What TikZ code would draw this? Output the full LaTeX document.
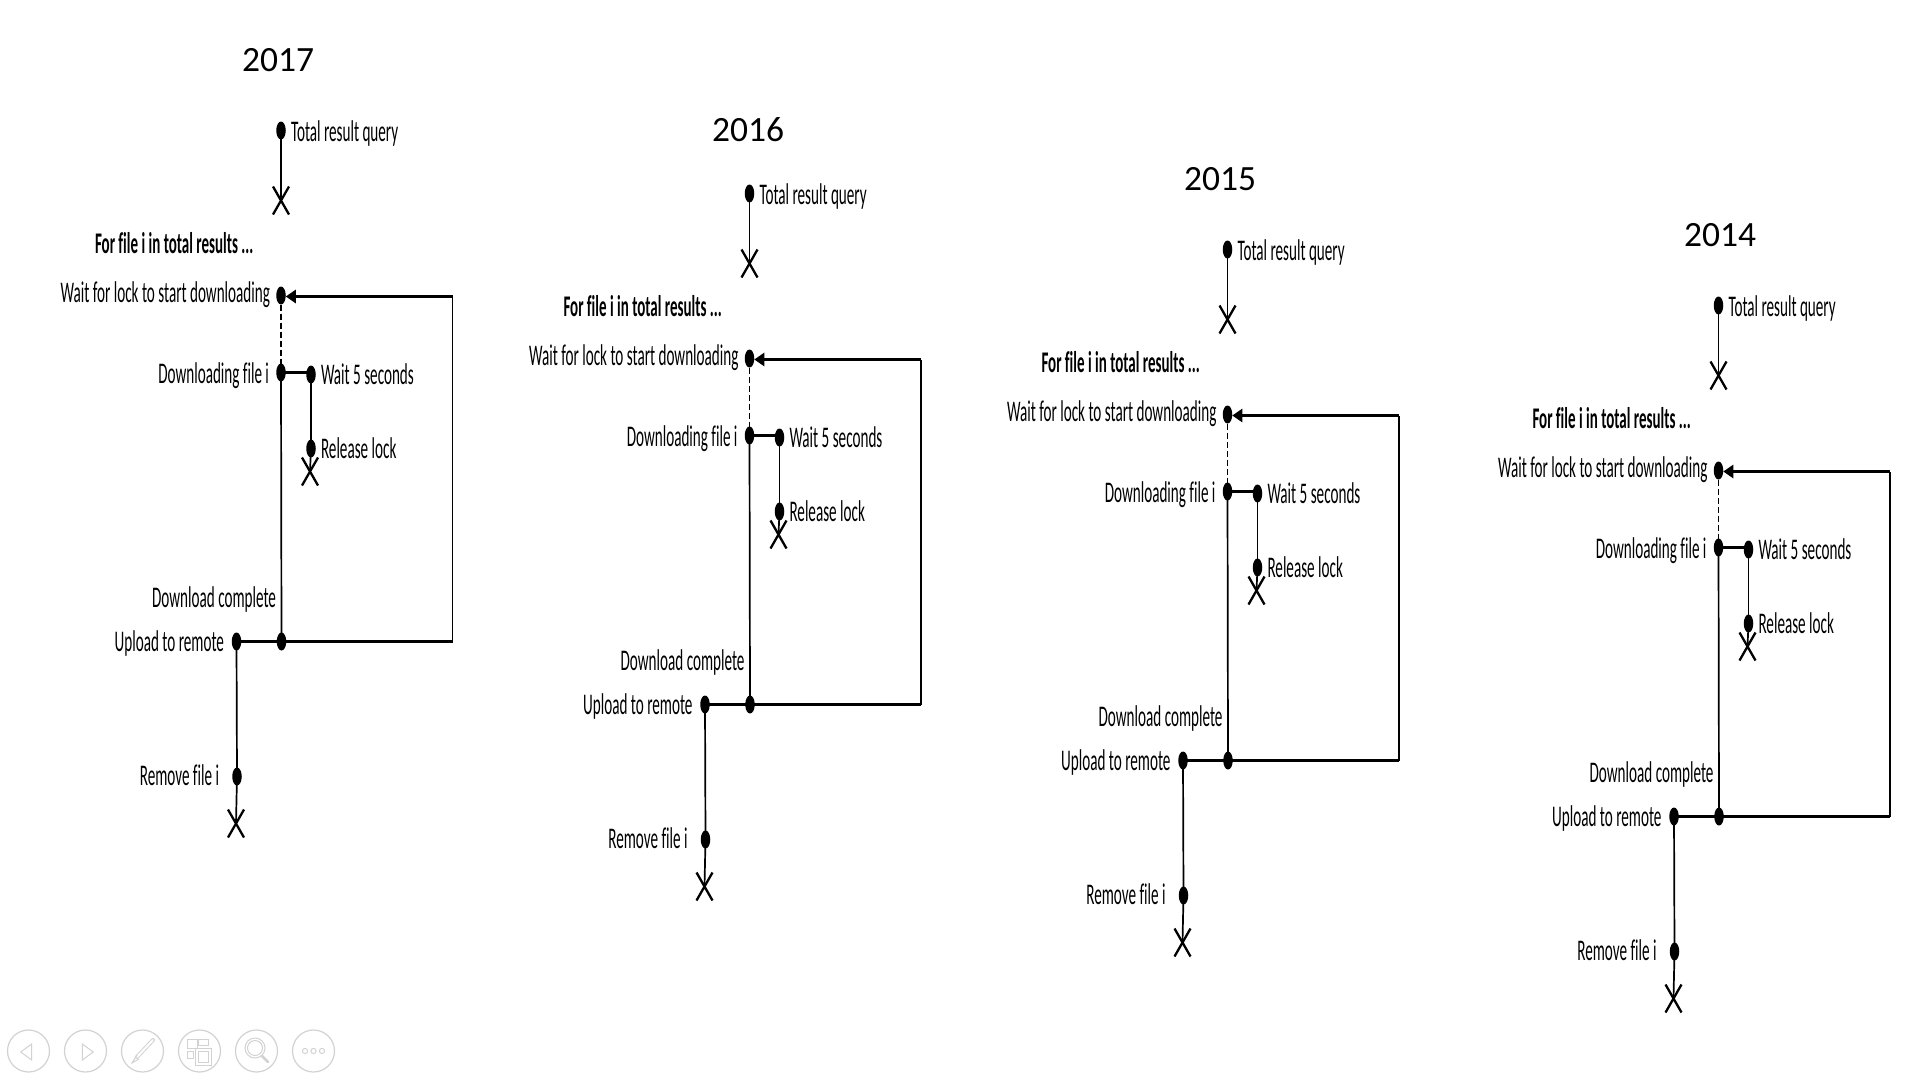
\documentclass[tikz,border=0pt]{standalone}
\usepackage{fontspec}
\usetikzlibrary{shapes.geometric,shapes.misc,arrows.meta}
\setmainfont{Carlito}
\newfontfamily\lblfont[FakeStretch=0.505,Ligatures=NoCommon]{Carlito}
\newfontfamily\lblbold[FakeStretch=0.5,Ligatures=NoCommon]{Carlito Bold}
\definecolor{icon}{HTML}{D2D2D2}
\tikzset{
  x=1pt,y=-1pt,
  lblnode/.style={font=\lblfont\fontsize{30}{30}\selectfont,text=black,inner sep=0pt,outer sep=0pt},
  boldnode/.style={font=\lblbold\fontsize{30}{30}\selectfont,text=black,inner sep=0pt,outer sep=0pt},
  yearnode/.style={font=\fontsize{35.5}{35}\selectfont,text=black,inner sep=0pt,outer sep=0pt},
  dotnode/.style={ellipse,fill=black,minimum width=9.5pt,minimum height=18pt,inner sep=0pt,outer sep=0pt},
  xnode/.style={cross out,draw=black,line width=2.3pt,minimum width=16pt,minimum height=28pt,inner sep=0pt,outer sep=0pt},
  thinline/.style={draw=black,line width=1.7pt},
  thickline/.style={draw=black,line width=2.5pt},
  dashline/.style={draw=black,line width=1.3pt,dash pattern=on 6pt off 3pt},
  iconline/.style={draw=icon,line width=1pt},
  iconball/.style={circle,draw=icon,line width=1.2pt,minimum size=42pt,inner sep=0pt},
}
\newcommand{\panel}[3]{%
\begin{scope}[shift={(#2,#3)}]
  \node[dotnode] (tq#1) at (281,130) {};
  \node[lblnode,anchor=base west] (tqt#1) at (291,141) {Total result query};
  \node[xnode] (tqx#1) at (281,200) {};
  \node[boldnode,anchor=base west] (ft#1) at (95,253) {For file i in total results ...};
  \node[dotnode] (w#1) at (281,295) {};
  \node[lblnode,anchor=base east] (wt#1) at (270,302) {Wait for lock to start downloading};
  \node[dotnode] (d#1) at (281,372) {};
  \node[lblnode,anchor=base east] (dt#1) at (269,383) {Downloading file i};
  \node[dotnode] (s#1) at (311,374) {};
  \node[lblnode,anchor=base west] (st#1) at (321,384) {Wait 5 seconds};
  \node[dotnode] (r#1) at (311,448) {};
  \node[lblnode,anchor=base west] (rt#1) at (321,458) {Release lock};
  \node[xnode] (rx#1) at (310,471) {};
  \node[lblnode,anchor=base east] (ct#1) at (276,607) {Download complete};
  \node[dotnode] (c#1) at (281.5,641) {};
  \node[dotnode] (u#1) at (236.5,641) {};
  \node[lblnode,anchor=base east] (ut#1) at (224,651) {Upload to remote};
  \node[dotnode] (m#1) at (237,776) {};
  \node[lblnode,anchor=base east] (mt#1) at (219,785) {Remove file i};
  \node[xnode] (mx#1) at (236,823) {};
  \coordinate (tr#1) at (452.5,296);
  \coordinate (br#1) at (452.5,641);
  \draw[thinline] (tq#1.center) -- (tqx#1.center);
  \draw[dashline] (w#1.center) -- (d#1.center);
  \draw[thickline] (d#1.center) -- (s#1.center |- d#1.center);
  \draw[thinline] (s#1.center) -- (r#1.center);
  \draw[thinline] (r#1.center) -- (rx#1.center);
  \draw[thinline] (d#1.center) -- (c#1.center);
  \draw[thickline] (u#1.center) -- (br#1);
  \draw[thinline] (br#1) -- (tr#1);
  \draw[thickline,-{Triangle[length=10pt,width=13pt]}] (tr#1) -- (w#1.east |- tr#1);
  \draw[thinline] (u#1.center) -- (m#1.center);
  \draw[thinline] (m#1.center) -- (mx#1.center);
\end{scope}}
\begin{document}
\begin{tikzpicture}
\useasboundingbox (0,0) rectangle (1920,1080);
\fill[white] (0,0) rectangle (1920,1080);
\node[yearnode] (y17) at (278,60) {2017};
\node[yearnode] (y16) at (748,130) {2016};
\node[yearnode] (y15) at (1220,179) {2015};
\node[yearnode] (y14) at (1720,235) {2014};
\panel{a}{0}{0.5}
\panel{b}{468.5}{63.5}
\panel{c}{946.5}{119.5}
\panel{d}{1437.5}{175.5}
% presentation toolbar
\node[iconball] (i1) at (28.5,1051) {};
\node[iconball] (i2) at (85.5,1051) {};
\node[iconball] (i3) at (142.5,1051) {};
\node[iconball] (i4) at (199.5,1051) {};
\node[iconball] (i5) at (256.5,1051) {};
\node[iconball] (i6) at (313.5,1051) {};
\draw[iconline] (31.7,1044) -- (31.7,1060) -- (20.7,1052) -- cycle;
\draw[iconline] (82.3,1044) -- (82.3,1060) -- (93.3,1052) -- cycle;
\draw[icon,line width=4pt,line cap=round] (153,1040) -- (137,1057);
\draw[white,line width=2pt,line cap=round] (153,1040) -- (137,1057);
\draw[iconline] (137,1055) -- (132,1063) -- (139,1059);
\draw[iconline] (187,1039) rectangle (197,1048);
\draw[iconline] (198,1039) rectangle (208,1045);
\draw[iconline] (187,1051) rectangle (193,1058);
\draw[icon,line width=1pt,fill=white] (195,1048) rectangle (211,1065);
\draw[iconline] (198,1051) rectangle (208,1062);
\draw[iconline] (255,1048) circle[radius=10];
\draw[iconline] (255,1048) circle[radius=7.5];
\draw[icon,line width=2.5pt,line cap=round] (262,1056) -- (268,1062);
\draw[iconline] (305,1051) circle[radius=2.6];
\draw[iconline] (313.5,1051) circle[radius=2.6];
\draw[iconline] (322,1051) circle[radius=2.6];
\end{tikzpicture}
\end{document}
